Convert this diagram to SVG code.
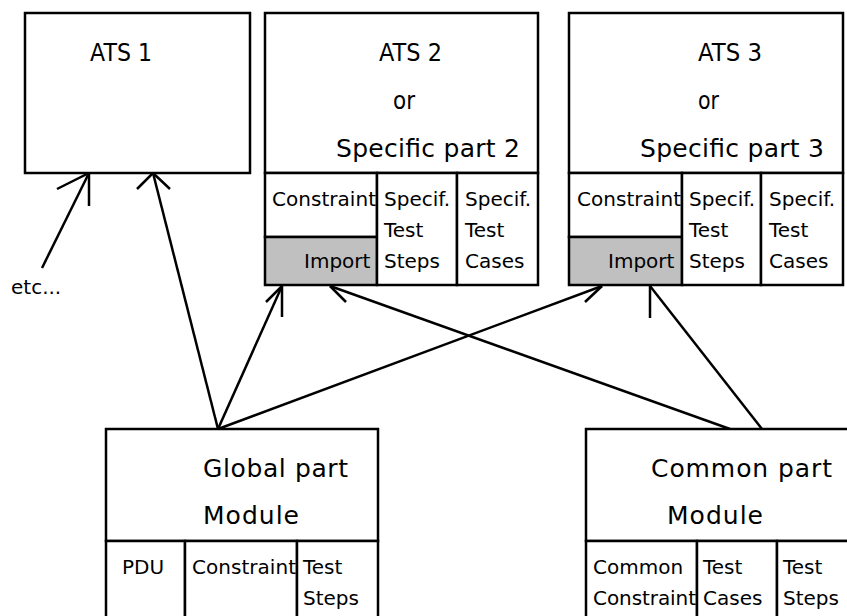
<svg xmlns="http://www.w3.org/2000/svg" width="847" height="616" viewBox="0 0 847 616">
<style>
.box{fill:#fff;stroke:#000;stroke-width:2.5}
.imp{fill:#c0c0c0;stroke:#000;stroke-width:2.5}
.ln{fill:none;stroke:#000;stroke-width:2.5}
text{font-family:"DejaVu Sans","Liberation Sans",sans-serif;fill:#000}
.h{font-size:25px}
.c{font-size:20px}
</style>
<rect width="847" height="616" fill="#fff"/>
<g id="connectors">
<line class="ln" x1="42" y1="268" x2="89" y2="173"/>
<polyline class="ln" points="57,189 89,173 89,206"/>
<line class="ln" x1="218" y1="429" x2="153" y2="173"/>
<polyline class="ln" points="137,189 153,173 170,189"/>
<line class="ln" x1="218" y1="429" x2="282" y2="286"/>
<polyline class="ln" points="266,302 282,286 282,317"/>
<line class="ln" x1="218" y1="429" x2="602" y2="286"/>
<polyline class="ln" points="585,302 602,286"/>
<line class="ln" x1="730" y1="429" x2="330" y2="286"/>
<polyline class="ln" points="346,302 330,286"/>
<line class="ln" x1="762" y1="429" x2="650" y2="286"/>
<polyline class="ln" points="650,318 650,286"/>
</g>
<g id="ats1">
<rect class="box" x="25" y="13" width="225" height="160"/>
<text class="h" x="90" y="61" textLength="62" lengthAdjust="spacingAndGlyphs">ATS 1</text>
</g>
<g id="ats2">
<rect class="box" x="265" y="13" width="273" height="160"/>
<text class="h" x="379" y="61" textLength="63" lengthAdjust="spacingAndGlyphs">ATS 2</text>
<text class="h" x="393" y="109" textLength="22" lengthAdjust="spacingAndGlyphs">or</text>
<text class="h" x="336" y="157" textLength="184">Specific part 2</text>
<rect class="box" x="265" y="173" width="112" height="64"/>
<rect class="imp" x="265" y="237" width="112" height="48"/>
<rect class="box" x="377" y="173" width="80" height="112"/>
<rect class="box" x="457" y="173" width="81" height="112"/>
<text class="c" x="272" y="206" textLength="104">Constraint</text>
<text class="c" x="304" y="268">Import</text>
<text class="c" x="384" y="206">Specif.</text>
<text class="c" x="384" y="237">Test</text>
<text class="c" x="384" y="268">Steps</text>
<text class="c" x="465" y="206">Specif.</text>
<text class="c" x="465" y="237">Test</text>
<text class="c" x="465" y="268">Cases</text>
</g>
<g id="ats3">
<rect class="box" x="569" y="13" width="274" height="160"/>
<text class="h" x="698" y="61" textLength="64" lengthAdjust="spacingAndGlyphs">ATS 3</text>
<text class="h" x="698" y="109" textLength="21" lengthAdjust="spacingAndGlyphs">or</text>
<text class="h" x="640" y="157" textLength="184">Specific part 3</text>
<rect class="box" x="569" y="173" width="113" height="64"/>
<rect class="imp" x="569" y="237" width="113" height="48"/>
<rect class="box" x="682" y="173" width="79" height="112"/>
<rect class="box" x="761" y="173" width="82" height="112"/>
<text class="c" x="577" y="206" textLength="104">Constraint</text>
<text class="c" x="608" y="268">Import</text>
<text class="c" x="689" y="206">Specif.</text>
<text class="c" x="689" y="237">Test</text>
<text class="c" x="689" y="268">Steps</text>
<text class="c" x="769" y="206">Specif.</text>
<text class="c" x="769" y="237">Test</text>
<text class="c" x="769" y="268">Cases</text>
</g>
<g id="etc">
<text class="c" x="11" y="294">etc...</text>
</g>
<g id="global">
<rect class="box" x="106" y="429" width="272" height="112"/>
<text class="h" x="203" y="477" textLength="145">Global part</text>
<text class="h" x="203" y="524" textLength="96">Module</text>
<rect class="box" x="106" y="541" width="79" height="80"/>
<rect class="box" x="185" y="541" width="112" height="80"/>
<rect class="box" x="297" y="541" width="81" height="80"/>
<text class="c" x="122" y="574">PDU</text>
<text class="c" x="192" y="574" textLength="104">Constraint</text>
<text class="c" x="303" y="574">Test</text>
<text class="c" x="303" y="605">Steps</text>
</g>
<g id="common">
<rect class="box" x="586" y="429" width="264" height="112"/>
<text class="h" x="651" y="477" textLength="181">Common part</text>
<text class="h" x="667" y="524" textLength="96">Module</text>
<rect class="box" x="586" y="541" width="111" height="80"/>
<rect class="box" x="697" y="541" width="80" height="80"/>
<rect class="box" x="777" y="541" width="73" height="80"/>
<text class="c" x="593" y="574">Common</text>
<text class="c" x="593" y="605" textLength="103">Constraint</text>
<text class="c" x="703" y="574">Test</text>
<text class="c" x="703" y="605">Cases</text>
<text class="c" x="783" y="574">Test</text>
<text class="c" x="783" y="605">Steps</text>
</g>
</svg>
